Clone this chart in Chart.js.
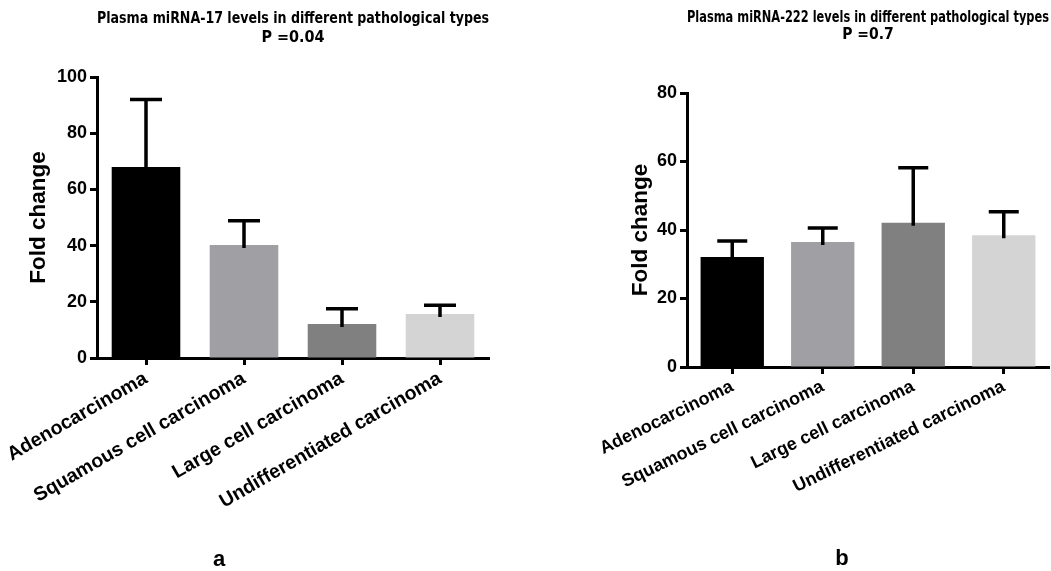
<!DOCTYPE html>
<html>
<head>
<meta charset="utf-8">
<script src="https://cdn.jsdelivr.net/npm/chart.js@4"></script>
<style>
  html, body { margin: 0; padding: 0; background: #fff; }
  body { width: 1051px; height: 571px; position: relative; overflow: hidden; }
  canvas { position: absolute; top: 0; }
  #chartA { left: 0; }
  #chartB { left: 520px; }
  .panel { position: absolute; font: bold 22px "Liberation Sans", Arial, sans-serif; transform: translate(-50%, -50%); }
</style>
</head>
<body>
<canvas id="chartA" width="520" height="571"></canvas>
<canvas id="chartB" width="531" height="571"></canvas>
<div class="panel" style="left:219px; top:559px">a</div>
<div class="panel" style="left:842px; top:558px">b</div>
<script>
// categories (same for both panels)
const categories = ['Adenocarcinoma', 'Squamous cell carcinoma', 'Large cell carcinoma', 'Undifferentiated carcinoma']
const barColors = ['#000000', '#a0a0a4', '#808080', '#d4d4d4']

// panel a: miRNA-17 (mean and top of error bar)
const mir17Mean = [68, 40.2, 12.1, 15.7]
const mir17Upper = [92, 48.8, 17.5, 18.8]
const yMaxA = 100

// panel b: miRNA-222
const mir222Mean = [32.1, 36.5, 42.1, 38.5]
const mir222Upper = [36.8, 40.6, 58.2, 45.3]
const yMaxB = 80

const NARROW = '"Liberation Sans Narrow", "Arial Narrow", "DejaVu Sans Condensed", sans-serif'
const SANS = '"Liberation Sans", Arial, sans-serif'

// draws the upper error bars with caps, using the y scale
const errorBars = {
  id: 'errorBars',
  afterDatasetsDraw (chart, args, opts) {
    const ctx = chart.ctx
    const y = chart.scales.y
    const meta = chart.getDatasetMeta(0)
    ctx.save()
    ctx.strokeStyle = '#000'
    ctx.lineWidth = opts.lineWidth
    meta.data.forEach((bar, i) => {
      const top = y.getPixelForValue(opts.upper[i])
      ctx.beginPath()
      ctx.moveTo(bar.x, bar.y + 3)
      ctx.lineTo(bar.x, top)
      ctx.moveTo(bar.x - opts.cap / 2, top)
      ctx.lineTo(bar.x + opts.cap / 2, top)
      ctx.stroke()
    })
    ctx.restore()
  }
}

function makeChart (id, p) {
  return new Chart(document.getElementById(id), {
    type: 'bar',
    data: {
      labels: categories,
      datasets: [{
        data: p.mean,
        backgroundColor: barColors,
        borderWidth: 0,
        barPercentage: 0.7,
        categoryPercentage: 1.0
      }]
    },
    options: {
      responsive: false,
      animation: false,
      layout: { padding: { left: p.padLeft, right: p.padRight, top: 0, bottom: 0 } },
      plugins: {
        legend: { display: false },
        tooltip: { enabled: false },
        title: {
          display: true,
          fullSize: false,
          text: p.title,
          color: '#000',
          font: { family: NARROW, size: p.titleSize, weight: 'bold', lineHeight: p.titleLine },
          padding: { top: p.titleTop, bottom: p.titleBottom }
        },
        errorBars: { upper: p.upper, cap: p.cap, lineWidth: 3.5 }
      },
      scales: {
        x: {
          offset: true,
          border: { display: true, color: '#000', width: 3 },
          grid: { display: true, offset: false, drawOnChartArea: false, color: '#000', tickLength: 7, tickWidth: 3 },
          ticks: {
            autoSkip: false,
            minRotation: p.rot,
            maxRotation: p.rot,
            color: '#000',
            padding: 2,
            font: { family: SANS, size: p.xFont, weight: 'bold' }
          },
          afterFit: s => { s.height = p.xHeight; s.paddingLeft = 0; s.paddingRight = 0 }
        },
        y: {
          min: 0,
          max: p.yMax,
          border: { display: true, color: '#000', width: 3 },
          grid: { display: true, drawOnChartArea: false, color: '#000', tickLength: 7, tickWidth: 3 },
          ticks: {
            stepSize: 20,
            color: '#000',
            padding: 3,
            font: { family: SANS, size: 18, weight: 'bold' }
          },
          title: {
            display: true,
            text: 'Fold change',
            color: '#000',
            font: { family: SANS, size: 22.5, weight: 'bold' },
            padding: { top: p.yTitlePad, bottom: 0 }
          },
          afterFit: s => { s.width = p.yWidth }
        }
      }
    },
    plugins: [errorBars]
  })
}

makeChart('chartA', {
  mean: mir17Mean,
  upper: mir17Upper,
  yMax: yMaxA,
  title: ['Plasma miRNA-17 levels in different pathological types', 'P =0.04'],
  titleSize: 16,
  titleLine: 1.1875,
  titleTop: 9.5,
  titleBottom: 29.5,
  padLeft: 20,
  padRight: 31,
  yWidth: 77,
  yTitlePad: 5,
  xHeight: 213,
  xFont: 19.5,
  rot: 30,
  cap: 32
})

makeChart('chartB', {
  mean: mir222Mean,
  upper: mir222Upper,
  yMax: yMaxB,
  title: ['Plasma miRNA-222 levels in different pathological types', 'P =0.7'],
  titleSize: 15.5,
  titleLine: 1.13,
  titleTop: 8.75,
  titleBottom: 49.25,
  padLeft: 100,
  padRight: 2,
  yWidth: 67,
  yTitlePad: 7,
  xHeight: 204,
  xFont: 18,
  rot: 26,
  cap: 30
})
</script>
</body>
</html>
